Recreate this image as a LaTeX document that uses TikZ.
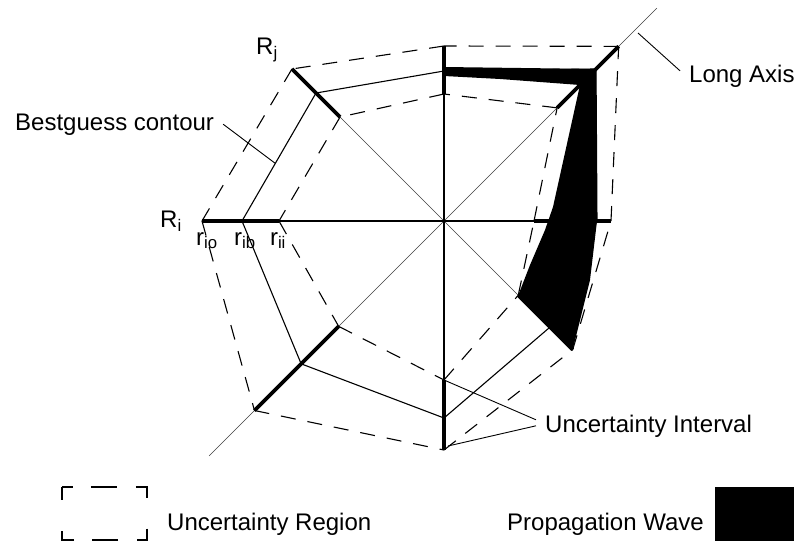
\documentclass[tikz,border=0pt]{standalone}
\usepackage{fontspec}
\setmainfont{Liberation Sans}
\usetikzlibrary{calc}

\begin{document}
\begin{tikzpicture}[
    x=1pt, y=1pt,
    every node/.style={font=\fontsize{24}{28}\selectfont, inner sep=0pt},
    lbl/.style={inner xsep=9pt},
    axis/.style={line width=1.6pt},
    diag/.style={line width=0.7pt, black!75},
    intv/.style={line width=3.6pt},
    best/.style={line width=1.1pt},
    region/.style={line width=1.1pt, dash pattern=on 15pt off 12pt},
    lead/.style={line width=0.9pt},
    wave/.style={fill=black},
    legdash/.style={line width=2pt, dash pattern=on 22pt off 18pt on 26pt off 19pt on 22pt off 31pt on 22pt off 19pt on 26pt off 18pt on 22pt off 31pt, dash phase=11pt}
]
    \useasboundingbox (-444,221) rectangle (350,-320);

    % Radii per direction: outer / bestguess / inner
    \foreach \dir/\ang/\rout/\rbest/\rin in {E/0/167/153/90, NE/45/247/215/160, N/90/175/150/127,
        NW/135/215/181/147, W/180/242/202/165, SW/225/268/202/149,
        S/270/229/197/159, SE/315/182/150/105} {
        \coordinate (o\dir) at (\ang:\rout);
        \coordinate (b\dir) at (\ang:\rbest);
        \coordinate (i\dir) at (\ang:\rin);
    }
    \coordinate (la1) at (45:301);
    \coordinate (la2) at (225:332);

    % Diagonals and main axes
    \draw[diag] (la2) -- (la1);
    \draw[diag] (oNW) -- (oSE);
    \draw[axis] (oW) -- (oE);
    \draw[axis] (oN) -- (oS);

    % Uncertainty intervals
    \foreach \dir in {E,NE,N,NW,W,SW,S,SE}
        \draw[intv] (i\dir) -- (o\dir);

    % Bestguess contour
    \draw[best] (bE) -- (bNE) -- (bN) -- (bNW) -- (bW) -- (bSW) -- (bS) -- (bSE) -- cycle;

    % Uncertainty region, outer and inner
    \foreach \p/\q in {E/NE, NE/N, N/NW, NW/W, W/SW, SW/S, S/SE, SE/E} {
        \draw[region] (o\p) -- (o\q);
        \draw[region] (i\p) -- (i\q);
    }

    % Propagation wave
    \fill[wave] (0,154) -- (bNE) -- (bE) -- (146,-59) -- (oSE) -- (iSE)
        -- (86,-44) -- (101,-9) -- (109,14) -- (136,136) -- (56,142) -- (0,145) -- cycle;

    % Axis labels
    \node (rj) at (-177,171) {R\textsubscript{j}};
    \node (ri) at (-273,0) {R\textsubscript{i}};
    \node[anchor=north] (rio) at (-237,-11) {r\textsubscript{io}};
    \node[anchor=north] (rib) at (-199,-11) {r\textsubscript{ib}};
    \node[anchor=north] (rii) at (-166,-11) {r\textsubscript{ii}};

    % Callouts
    \node[lbl, anchor=base west] (bgl) at (-438,91) {Bestguess contour};
    \node[lbl, anchor=base west] (lal) at (236,138) {Long Axis};
    \node[lbl, anchor=base west] (uil) at (92,-211) {Uncertainty Interval};
    \coordinate (bgt) at ($(bW)!0.45!(bNW)$);
    \coordinate (lat) at (194,188);
    \coordinate (uib) at (4,-225);
    \draw[lead] (bgl.east) -- (bgt);
    \draw[lead] ([yshift=6pt]lal.west) -- (lat);
    \draw[lead] ([yshift=6pt]uil.west) -- (iS);
    \draw[lead] (uil.west) -- (uib);

    % Legend
    \node[minimum width=85pt, minimum height=53pt, anchor=north west] (urbox) at (-382,-266) {};
    \draw[legdash] (urbox.north west) -- (urbox.north east) -- (urbox.south east) -- (urbox.south west) -- cycle;
    \node[anchor=base west] (url) at (-277,-309) {Uncertainty Region};
    \node[anchor=base west] (pwl) at (63,-309) {Propagation Wave};
    \node[wave, minimum width=79pt, minimum height=54pt, anchor=north west] (pwbox) at (271,-266) {};
\end{tikzpicture}
\end{document}
